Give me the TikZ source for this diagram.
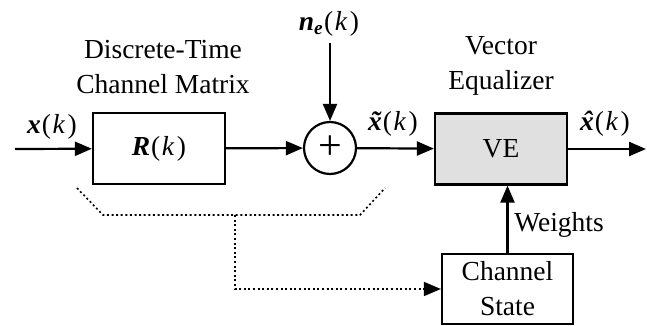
\documentclass[tikz,border=0pt]{standalone}
\usepackage{fontspec}
\setmainfont{Liberation Serif}
\usetikzlibrary{arrows.meta}
\tikzset{
  txt/.style={font=\fontsize{27.5}{35}\selectfont, inner sep=0pt, align=center},
  blk/.style={draw, line width=2.2pt, minimum width=132pt, minimum height=71pt, txt},
  sig/.style={line width=2.2pt, -{Triangle[length=17pt,width=14pt]}},
  dotline/.style={line width=1.6pt, dash pattern=on 2pt off 2.6pt}
}
\newcommand{\bi}[1]{\textbf{\textit{#1}}}
\newcommand{\ofk}{\kern1pt(\kern1.5pt\textit{k}\kern2.5pt)}
\newcommand{\accx}[1]{\ooalign{\bi{x}\cr\hidewidth\kern2pt\bi{\char"#1}\hidewidth\cr}}
\begin{document}
\begin{tikzpicture}[x=1pt,y=-1pt]
\useasboundingbox (0,0) rectangle (647,326);
% blocks
\node[blk] (R) at (159,148.5) {\bi{R}\ofk};
\node[draw, circle, line width=2.2pt, minimum size=52pt, inner sep=0pt,
      font=\fontsize{42}{42}\selectfont] (sum) at (330,148) {\raisebox{1pt}{+}};
\node[blk, fill=black!12] (VE) at (501,149) {VE};
\node[blk, minimum width=131pt, minimum height=70pt] (CS) at (507.5,289) {Channel\\State};
% free ends
\coordinate (in) at (15,149);
\coordinate (out) at (646,149);
\coordinate (ntop) at (330,43);
\coordinate (d1) at (77,188);
\coordinate (d2) at (103,215);
\coordinate (dm) at (235,215);
\coordinate (d3) at (360,215);
\coordinate (d4) at (385,188);
% labels
\node[txt] (lx) at (52,127) {\bi{x}\ofk};
\node[txt] (ln) at (329,24) {\bi{n}\textsubscript{\bi{e}}\ofk};
\node[txt] (lxt) at (393,124) {\accx{02DC}\ofk};
\node[txt] (lxh) at (605,124) {\accx{02C6}\ofk};
\node[txt] (ldt) at (163,67) {Discrete-Time\\Channel Matrix};
\node[txt] (lve) at (501,66) {Vector\\Equalizer};
\node[txt] (lw) at (559,225) {Weights};
% connectors
\draw[sig] (in) -- (R);
\draw[sig] (R) -- (sum);
\draw[sig] (ntop) -- (sum);
\draw[sig] (sum) -- (VE);
\draw[sig] (VE) -- (out);
\draw[sig] (CS.north) -- (CS.north |- VE.south);
\draw[dotline] (d1) -- (d2) -- (d3) -- (d4);
\draw[dotline, -{Triangle[length=17pt,width=14pt]}] (dm) |- (CS.west);
\end{tikzpicture}
\end{document}
